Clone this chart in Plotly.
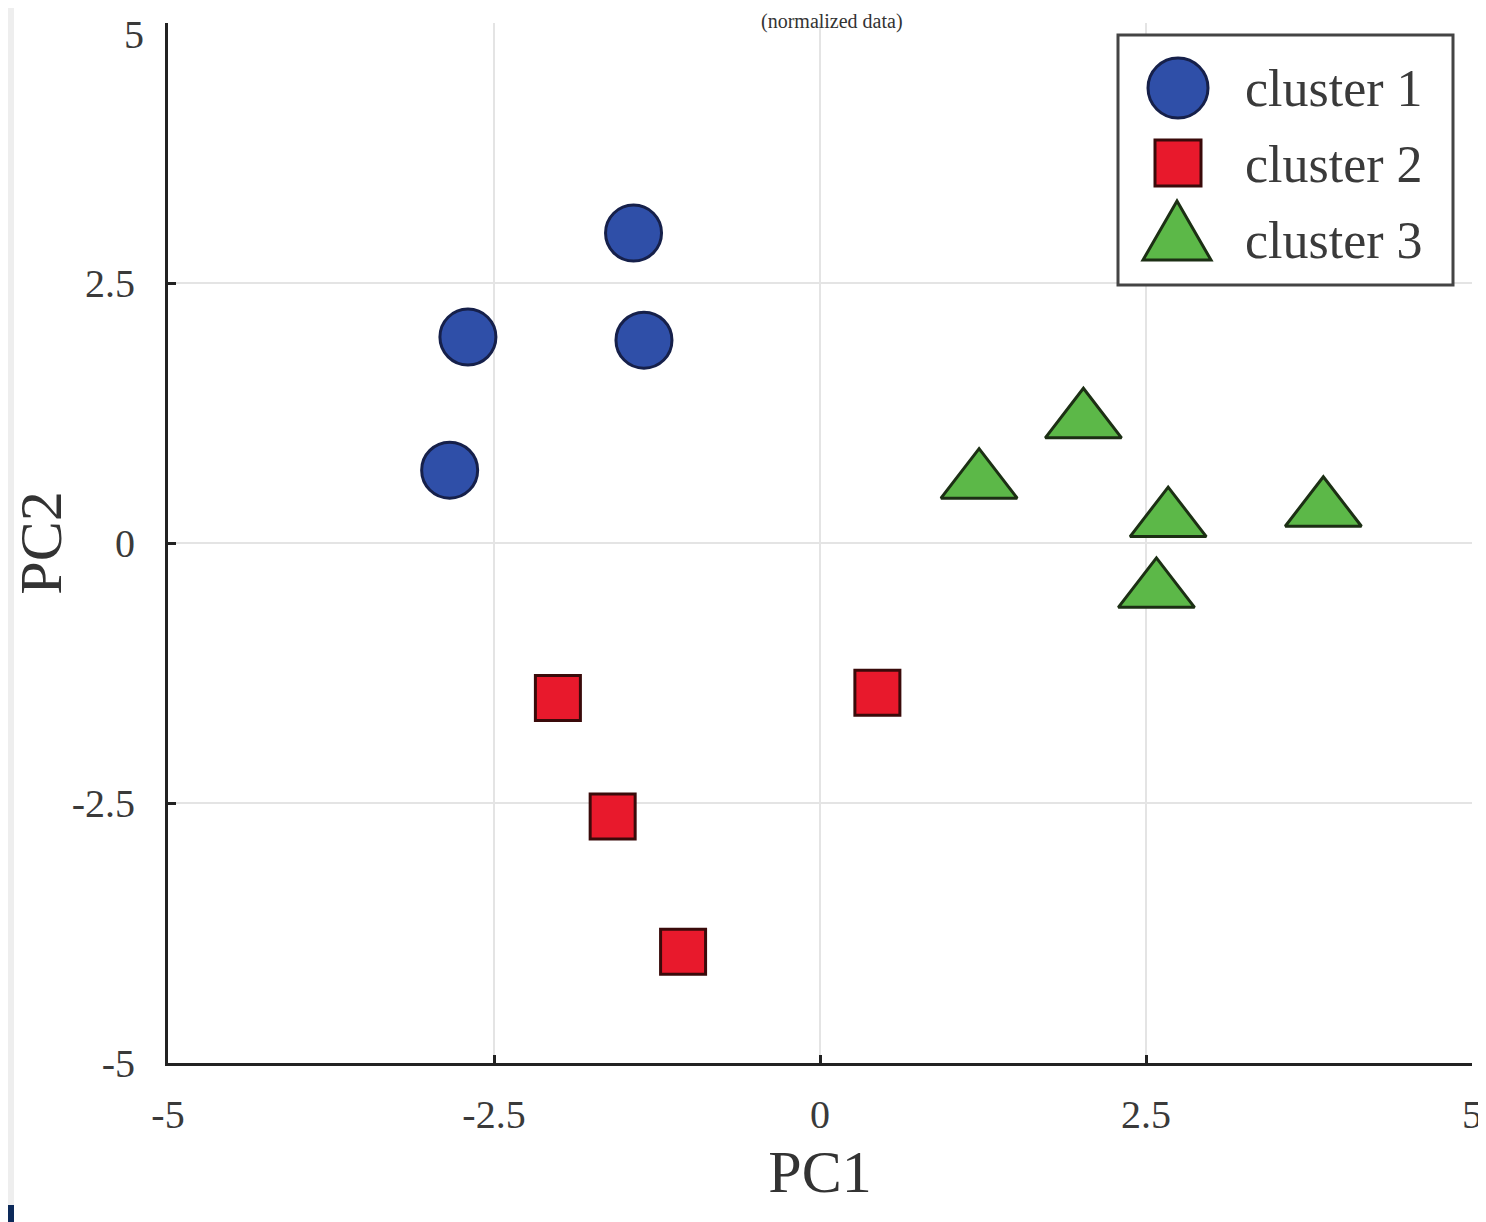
import plotly.graph_objects as go

# ---- data ----
c1_x = [-1.43, -2.70, -1.35, -2.84]
c1_y = [2.98, 1.98, 1.95, 0.70]

c2_x = [-2.01, -1.59, -1.05, 0.44]
c2_y = [-1.49, -2.63, -3.93, -1.44]

c3_x = [2.02, 1.22, 2.67, 3.86, 2.58]
c3_y = [1.17, 0.59, 0.22, 0.32, -0.46]

series_names = ["cluster 1", "cluster 2", "cluster 3"]
tick_vals = [-5, -2.5, 0, 2.5, 5]
tick_text = ["-5", "-2.5", "0", "2.5", "5"]

FONT = "Liberation Serif, Times New Roman, serif"
OFF = 8  # default page body margin
W, H = 1486 - OFF, 1222 - OFF
# plot area in page pixels: x 168..1472, y 23..1063
ML, MR, MT, MB = 168 - OFF, 1486 - 1472, 23 - OFF, 1222 - 1063
PW = W - ML - MR
PH = H - MT - MB

BLUE, BLUE_E = "#2f4fa8", "#16204a"
RED, RED_E = "#e8192c", "#3a0a0a"
GREEN, GREEN_E = "#5cb848", "#1c2f14"
TICK_FONT = dict(family=FONT, size=40, color="#3a3a3a")


def px(x):
    """page pixel x -> paper coordinate"""
    return (x - OFF - ML) / PW


def py(y):
    """page pixel y -> paper coordinate"""
    return (H - MB - (y - OFF)) / PH


fig = go.Figure()
fig.add_trace(go.Scatter(
    x=c1_x, y=c1_y, mode="markers", name=series_names[0], showlegend=False,
    marker=dict(symbol="circle", size=56, color=BLUE,
                line=dict(color=BLUE_E, width=3))))
fig.add_trace(go.Scatter(
    x=c2_x, y=c2_y, mode="markers", name=series_names[1], showlegend=False,
    marker=dict(symbol="square", size=45, color=RED,
                line=dict(color=RED_E, width=3))))
fig.add_trace(go.Scatter(
    x=c3_x, y=c3_y, mode="markers", name=series_names[2], showlegend=False,
    marker=dict(symbol="triangle-up", size=66, color=GREEN,
                line=dict(color=GREEN_E, width=3))))

axis_common = dict(
    tickvals=tick_vals, automargin=False,
    ticklabeloverflow="allow",
    showgrid=True, gridcolor="#e4e4e4", gridwidth=2,
    zeroline=False, showline=True, linecolor="#222222", linewidth=3,
    ticks="inside", ticklen=8, tickwidth=3, tickcolor="#222222",
    tickfont=TICK_FONT,
    mirror=False,
)

# the top y label sits at the page edge: it is drawn as an annotation just below it
y_ticktext = tick_text[:-1] + [""]

fig.update_layout(
    width=W, height=H,
    margin=dict(l=ML, r=MR, t=MT, b=MB, pad=0, autoexpand=False),
    paper_bgcolor="white", plot_bgcolor="white",
    xaxis=dict(range=[-5, 5], ticktext=tick_text,
               title=dict(text="PC1", font=dict(family=FONT, size=60, color="#333333"), standoff=14),
               ticklabelstandoff=14, **axis_common),
    yaxis=dict(range=[-5, 5], ticktext=y_ticktext,
               title=dict(text="PC2", font=dict(family=FONT, size=60, color="#333333"), standoff=34),
               ticklabelstandoff=22, **axis_common),
    showlegend=False,
)

fig.add_annotation(
    text=tick_text[-1], xref="paper", yref="y", x=px(146), y=tick_vals[-1],
    xanchor="right", yanchor="top", yshift=13, showarrow=False, font=TICK_FONT,
)

# title at the very top (mostly off-page in the reference)
fig.add_annotation(
    text="(normalized data)", xref="paper", yref="paper",
    x=px(832), y=py(OFF), xanchor="center", yanchor="top",
    showarrow=False, font=dict(family=FONT, size=20, color="#333333"),
)

# ---- hand-drawn legend with large symbols ----
fig.add_shape(type="rect", xref="paper", yref="paper",
              x0=px(1118), x1=px(1453), y0=py(285), y1=py(35),
              fillcolor="white", line=dict(color="#444444", width=3))
fig.add_shape(type="circle", xref="paper", yref="paper",
              x0=px(1148), x1=px(1208), y0=py(118), y1=py(58),
              fillcolor=BLUE, line=dict(color=BLUE_E, width=3))
fig.add_shape(type="rect", xref="paper", yref="paper",
              x0=px(1155), x1=px(1201), y0=py(186), y1=py(140),
              fillcolor=RED, line=dict(color=RED_E, width=3))
tri = "M {} {} L {} {} L {} {} Z".format(px(1143), py(260), px(1211), py(260), px(1177), py(201))
fig.add_shape(type="path", xref="paper", yref="paper", path=tri,
              fillcolor=GREEN, line=dict(color=GREEN_E, width=3))
for name, yc in zip(series_names, [88, 165, 240]):
    fig.add_annotation(text=name, xref="paper", yref="paper",
                       x=px(1243), y=py(yc), xanchor="left", yanchor="middle",
                       showarrow=False,
                       font=dict(family=FONT, size=52, color="#3a3a3a"))

# light-grey page strip at the left and small navy corner block
fig.add_shape(type="rect", xref="paper", yref="paper",
              x0=px(OFF), x1=px(14), y0=py(1222), y1=py(OFF),
              fillcolor="#eeeeee", line=dict(width=0), layer="below")
fig.add_shape(type="rect", xref="paper", yref="paper",
              x0=px(OFF), x1=px(14), y0=py(1222), y1=py(1205),
              fillcolor="#0d2a5a", line=dict(width=0))

fig.write_html("out.html")
